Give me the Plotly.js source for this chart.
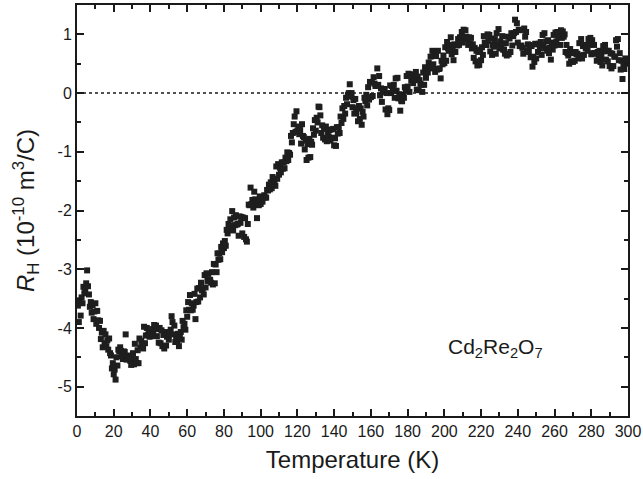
<!DOCTYPE html>
<html>
<head>
<meta charset="utf-8">
<script src="https://cdn.plot.ly/plotly-3.0.1.min.js"></script>
<style>html,body{margin:0;padding:0;background:#fff;}#chart{width:643px;height:479px;}</style>
</head>
<body>
<div id="chart"></div>
<script>
// Temperature (K) and Hall coefficient R_H (1e-10 m^3/C)
var temperature = [
0.5,1,1.5,2,2.5,3,3.5,4,4.5,5,5.5,6,6.5,7,7.5,8,8.5,9,9.5,10,10.5,11,
11.5,12,12.5,13,13.5,14,14.5,15,15.5,16,16.5,17,17.5,18,18.5,19,19.5,20,20.5,21,21.5,22,
22.5,23,23.5,24,24.5,25,25.5,26,26.5,27,27.5,28,28.5,29,29.5,30,30.5,31,31.5,32,32.5,33,33.5,34,34.5,35,35.5,36,36.5,37,37.5,38,38.5,
39,39.5,40,40.5,41,41.5,42,42.5,43,43.5,44,44.5,45,45.5,46,46.5,47,47.5,48,48.5,49,49.5,50,50.5,51,51.5,52,52.5,53,53.5,54,54.5,55,55.5,56,
56.5,57,57.5,58,58.5,59,59.5,60,60.5,61,61.5,62,62.5,63,63.5,64,64.5,65,65.5,66,66.5,67,67.5,68,68.5,69,69.5,70,
70.5,71,71.5,72,72.5,73,73.5,74,74.5,75,75.5,76,76.5,77,77.5,78,78.5,79,79.5,80,80.5,81,81.5,82,82.5,83,83.5,84,84.5,85,
85.5,86,86.5,87,87.5,88,88.5,89,89.5,90,90.5,91,91.5,92,92.5,93,93.5,94,94.5,95,95.5,96,96.5,97,97.5,98,98.5,99,99.5,100,
100.5,101,101.5,102,102.5,103,103.5,104,104.5,105,105.5,106,106.5,107,107.5,108,108.5,109,109.5,110,110.5,111,111.5,112,112.5,113,113.5,114,114.5,115,
115.5,116,116.5,117,117.5,118,118.5,119,119.5,120,120.5,121,121.5,122,122.5,123,123.5,124,124.5,125,125.5,126,126.5,127,127.5,128,128.5,129,129.5,130,
130.5,131,131.5,132,132.5,133,133.5,134,134.5,135,135.5,136,136.5,137,137.5,138,138.5,139,139.5,140,140.5,141,141.5,142,142.5,143,143.5,144,144.5,145,145.5,146,146.5,147,147.5,148,148.5,149,149.5,150,
150.5,151,151.5,152,152.5,153,153.5,154,154.5,155,155.5,156,156.5,157,157.5,158,158.5,159,159.5,160,160.5,161,161.5,162,162.5,163,163.5,164,164.5,165,165.5,166,166.5,167,167.5,168,168.5,169,169.5,170,
170.5,171,171.5,172,172.5,173,173.5,174,174.5,175,175.5,176,176.5,177,177.5,178,178.5,179,179.5,180,180.5,181,181.5,182,182.5,183,183.5,184,184.5,185,185.5,186,186.5,187,187.5,188,188.5,189,189.5,190,
190.5,191,191.5,192,192.5,193,193.5,194,194.5,195,195.5,196,196.5,197,197.5,198,198.5,199,199.5,200,200.5,201,201.5,202,202.5,203,203.5,204,204.5,205,205.5,206,206.5,207,207.5,208,208.5,209,209.5,210,
210.5,211,211.5,212,212.5,213,213.5,214,214.5,215,215.5,216,216.5,217,217.5,218,218.5,219,219.5,220,220.5,221,221.5,222,222.5,223,223.5,224,224.5,225,225.5,226,226.5,227,227.5,228,228.5,229,229.5,230,
230.5,231,231.5,232,232.5,233,233.5,234,234.5,235,235.5,236,236.5,237,237.5,238,238.5,239,239.5,240,240.5,241,241.5,242,242.5,243,243.5,244,244.5,245,245.5,246,246.5,247,247.5,248,248.5,249,249.5,250,
250.5,251,251.5,252,252.5,253,253.5,254,254.5,255,255.5,256,256.5,257,257.5,258,258.5,259,259.5,260,260.5,261,261.5,262,262.5,263,263.5,264,264.5,265,265.5,266,266.5,267,267.5,268,268.5,269,269.5,270,
270.5,271,271.5,272,272.5,273,273.5,274,274.5,275,275.5,276,276.5,277,277.5,278,278.5,279,279.5,280,280.5,281,281.5,282,282.5,283,283.5,284,284.5,285,285.5,286,286.5,287,287.5,288,288.5,289,289.5,290,
290.5,291,291.5,292,292.5,293,293.5,294,294.5,295,295.5,296,296.5,297,297.5,298,298.5,299
];
var hallCoefficient = [
-3.62,-3.9,-3.53,-3.79,-3.48,-3.58,-3.3,-3.41,-3.36,-3.24,-3.02,-3.29,-3.43,-3.64,-3.56,-3.74,-3.61,-3.85,-3.72,-3.58,-3.93,-3.71,
-3.87,-4.0,-3.88,-4.19,-4.08,-4.33,-4.05,-4.26,-4.11,-4.31,-4.21,-4.37,-4.18,-4.43,-4.47,-4.69,-4.6,-4.79,-4.71,-4.88,-4.5,-4.64,
-4.37,-4.4,-4.33,-4.39,-4.48,-4.53,-4.4,-4.41,-4.11,-4.54,-4.47,-4.5,-4.53,-4.56,-4.63,-4.5,-4.43,-4.62,-4.27,-4.53,-4.6,-4.38,-4.6,-4.18,-4.33,-4.22,-4.3,-4.35,-3.98,-4.26,-4.13,-4.0,-4.12,
-4.07,-4.15,-4.08,-4.14,-4.02,-4.11,-3.95,-4.01,-3.96,-4.14,-4.02,-4.25,-4.0,-4.26,-4.04,-4.31,-4.12,-4.35,-4.07,-4.3,-4.15,-4.11,-4.2,-4.09,-4.03,-3.8,-3.9,-4.11,-3.96,-4.24,-4.18,-4.23,-4.1,-4.31,-4.13,
-4.07,-4.2,-3.88,-3.99,-3.93,-4.03,-3.7,-3.81,-3.56,-3.69,-3.44,-3.7,-3.58,-3.69,-3.62,-3.42,-3.85,-3.56,-3.33,-3.55,-3.32,-3.48,-3.23,-3.36,-3.33,-3.43,-3.1,-3.31,
-3.07,-3.2,-3.08,-3.19,-3.18,-3.23,-3.05,-3.26,-2.91,-3.24,-2.92,-3.05,-2.73,-2.84,-2.73,-2.83,-2.62,-2.71,-2.56,-2.64,-2.52,-2.6,-2.33,-2.39,-2.23,-2.33,-2.15,-2.26,-2.01,-2.34,
-2.12,-2.25,-2.08,-2.24,-2.23,-2.43,-2.1,-2.21,-2.11,-2.39,-2.12,-2.45,-2.13,-2.49,-2.53,-2.23,-1.9,-1.91,-1.61,-1.89,-1.82,-1.95,-1.68,-1.81,-1.88,-2.13,-1.85,-1.91,-1.76,-1.89,
-1.77,-1.85,-1.78,-1.74,-1.78,-1.78,-1.65,-1.66,-1.56,-1.64,-1.52,-1.62,-1.43,-1.49,-1.48,-1.58,-1.25,-1.46,-1.21,-1.39,-1.27,-1.35,-1.18,-1.29,-1.18,-1.28,-1.1,-1.16,-1.01,-1.14,
-1.02,-1.05,-0.73,-0.84,-0.68,-0.53,-0.4,-0.66,-0.31,-0.64,-0.57,-0.7,-0.63,-0.86,-0.53,-0.73,-0.75,-0.96,-0.81,-1.14,-0.87,-1.1,-0.78,-1.09,-0.83,-0.88,-0.6,-0.71,-0.46,-0.64,
-0.42,-0.5,-0.23,-0.24,-0.38,-0.68,-0.55,-0.76,-0.61,-0.79,-0.57,-0.82,-0.66,-0.74,-0.63,-0.81,-0.62,-0.76,-0.61,-0.89,-0.77,-0.9,-0.58,-0.69,-0.58,-0.68,-0.4,-0.51,-0.26,-0.44,-0.22,-0.35,-0.08,-0.19,-0.03,0.0,0.15,-0.06,0.0,-0.24,
-0.12,-0.35,-0.1,-0.34,-0.26,-0.48,-0.22,-0.44,-0.26,-0.54,-0.32,-0.4,-0.08,-0.14,-0.03,-0.21,0.1,-0.11,0.19,-0.07,0.18,-0.05,0.27,0.16,0.12,0.12,0.42,0.14,0.29,-0.04,0.08,-0.15,0.02,0.06,0.07,-0.28,0.0,-0.36,-0.26,-0.29,
0.13,0.0,0.12,0.04,0.14,-0.08,0.25,0.04,0.26,-0.09,-0.02,-0.3,-0.13,-0.14,-0.03,-0.08,0.1,0.04,0.29,0.11,0.33,0.02,0.32,0.21,0.3,0.17,0.3,0.22,0.36,0.06,0.28,0.05,0.22,0.16,0.14,0.02,0.35,0.14,0.44,0.26,
0.38,0.35,0.52,0.46,0.62,0.42,0.72,0.49,0.64,0.36,0.63,0.4,0.72,0.41,0.42,0.25,0.55,0.49,0.64,0.51,0.78,0.55,0.87,0.76,0.72,0.82,0.95,0.66,0.74,0.56,0.83,0.7,0.82,0.81,0.92,0.82,0.95,0.94,1.04,0.86,
1.08,0.95,1.07,0.96,0.92,0.82,0.95,0.84,0.94,0.76,0.83,0.6,0.77,0.54,0.72,0.47,0.7,0.48,0.74,0.56,0.78,0.65,0.97,0.86,0.82,0.82,1.0,0.89,0.99,0.71,0.93,0.65,0.82,0.79,0.92,0.67,1.02,0.82,1.09,0.76,
0.88,0.8,0.97,0.74,0.74,0.67,0.85,0.64,0.96,0.66,0.93,0.7,1.02,0.81,0.97,1.02,1.25,1.04,1.19,0.86,1.08,0.8,1.07,0.81,0.77,0.67,1.1,0.96,1.04,0.73,0.83,0.7,0.82,0.61,0.8,0.45,0.62,0.53,0.84,0.59,
0.83,0.7,0.84,0.76,0.87,0.65,0.99,0.82,1.02,0.76,0.88,0.72,0.9,0.68,0.77,0.57,0.86,0.74,0.99,0.81,1.03,0.88,1.04,0.96,1.04,0.82,1.07,0.94,1.05,0.96,1.0,0.7,0.82,0.68,0.64,0.5,0.75,0.54,0.69,0.53,
0.68,0.55,0.7,0.66,0.67,0.59,0.85,0.64,0.92,0.59,0.8,0.65,0.82,0.76,0.8,0.72,0.92,0.82,0.94,0.66,0.9,0.68,0.82,0.68,0.67,0.55,0.7,0.59,0.72,0.53,0.63,0.47,0.8,0.71,0.82,0.57,0.72,0.54,0.72,0.46,
0.68,0.42,0.67,0.46,0.62,0.62,0.9,0.79,0.92,0.56,0.68,0.4,0.55,0.24,0.48,0.41,0.59,0.5
];

var xTickVals = [0,20,40,60,80,100,120,140,160,180,200,220,240,260,280,300];
var xTickText = ['0','20','40','60','80','100','120','140','160','180','200','220','240','260','280','300'];
var yTickVals = [-5,-4,-3,-2,-1,0,1];
var yTickText = ['-5','-4','-3','-2','-1','0','1'];

var trace = {
  x: temperature,
  y: hallCoefficient,
  type: 'scatter',
  mode: 'markers',
  marker: {symbol: 'square', size: 6, color: '#1e1e1e', line: {width: 0}},
  hoverinfo: 'skip'
};

var axisCommon = {
  showgrid: false,
  zeroline: false,
  showline: true,
  linecolor: '#1a1a1a',
  linewidth: 2,
  mirror: 'allticks',
  ticks: 'inside',
  ticklen: 7,
  tickwidth: 2,
  tickcolor: '#1a1a1a',
  tickmode: 'array',
  tickfont: {family: 'Liberation Sans, Arial, sans-serif', size: 16, color: '#1a1a1a'}
};

var layout = {
  width: 643,
  height: 479,
  paper_bgcolor: '#ffffff',
  plot_bgcolor: '#ffffff',
  showlegend: false,
  margin: {l: 77, r: 15, t: 5, b: 63},
  xaxis: Object.assign({}, axisCommon, {
    range: [0, 300],
    tickvals: xTickVals,
    ticktext: xTickText,
    minor: {dtick: 10, tick0: 0, ticks: 'inside', ticklen: 4, tickwidth: 2, tickcolor: '#1a1a1a'},
    title: {text: 'Temperature (K)', font: {family: 'Liberation Sans, Arial, sans-serif', size: 24, color: '#1a1a1a'}, standoff: 12}
  }),
  yaxis: Object.assign({}, axisCommon, {
    range: [-5.5, 1.5],
    tickvals: yTickVals,
    ticktext: yTickText,
    minor: {dtick: 0.5, tick0: 0, ticks: 'inside', ticklen: 4, tickwidth: 2, tickcolor: '#1a1a1a'},
    title: {text: '<i>R</i><sub>H</sub> (10<sup>-10</sup> m<sup>3</sup>/C)', font: {family: 'Liberation Sans, Arial, sans-serif', size: 24, color: '#1a1a1a'}, standoff: 16}
  }),
  shapes: [{
    type: 'line', xref: 'x', yref: 'y', x0: 0, x1: 300, y0: 0, y1: 0,
    line: {color: '#1a1a1a', width: 1.5, dash: 'dot'}
  }],
  annotations: [{
    xref: 'x', yref: 'y', x: 201, y: -4.35, xanchor: 'left', yanchor: 'middle',
    text: 'Cd<sub>2</sub>Re<sub>2</sub>O<sub>7</sub>', showarrow: false,
    font: {family: 'Liberation Sans, Arial, sans-serif', size: 21, color: '#1a1a1a'}
  }]
};

Plotly.newPlot('chart', [trace], layout, {displayModeBar: false, staticPlot: true});
</script>
</body>
</html>
